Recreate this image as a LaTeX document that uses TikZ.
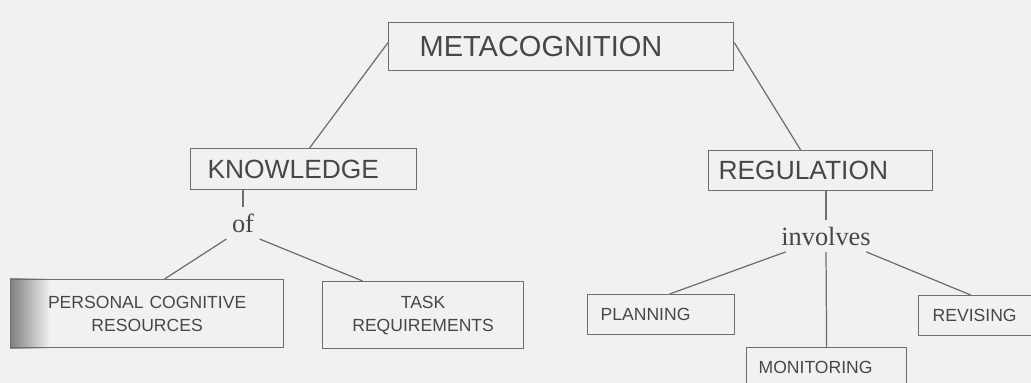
\documentclass[tikz,border=0pt]{standalone}
\usepackage{fontspec}
\setmainfont{Liberation Serif}
\newfontfamily\boxfont{Liberation Sans}
\usetikzlibrary{positioning,backgrounds}
\definecolor{paper}{HTML}{F1F1EF}
\definecolor{ink}{HTML}{474747}
\definecolor{rule}{HTML}{6E6E6E}

\begin{document}
\begin{tikzpicture}[line width=0.7pt]
  \tikzstyle{box} = [rectangle, draw=rule, text=ink, anchor=north west, align=left, minimum height=0.8cm]
  \tikzstyle{bigbox} = [box, font=\boxfont\fontsize{16.5}{19}\selectfont]
  \tikzstyle{midbox} = [box, font=\boxfont\fontsize{15}{18}\selectfont]
  \tikzstyle{smallbox} = [box, font=\boxfont\fontsize{10}{13}\selectfont]
  \tikzstyle{word} = [text=ink, inner xsep=0.1cm, inner ysep=0.12cm, font=\fontsize{15}{18}\selectfont]
  \tikzstyle{link} = [draw=rule]

  \useasboundingbox (0,0) rectangle (20.62,-7.66);
  \clip (0,0) rectangle (20.62,-7.66);

  % top of the tree
  \node[bigbox, inner xsep=0.62cm, text width=5.66cm, minimum height=0.96cm] (meta) at (7.76,-0.44) {METACOGNITION};

  % the two branches
  \node[midbox, inner xsep=0.34cm, text width=3.84cm, minimum height=0.82cm] (know) at (3.80,-2.96) {KNOWLEDGE};
  \node[midbox, inner xsep=0.20cm, text width=4.08cm] (reg) at (14.16,-3.00) {REGULATION};

  \node[word] (of) at (4.86,-4.46) {of};
  \node[word] (inv) at (16.52,-4.72) {involves};

  % knowledge side
  \node[smallbox, align=center, inner xsep=0.2cm, text width=5.06cm, minimum height=1.36cm] (pcr) at (0.20,-5.58) {PERSONAL COGNITIVE\\RESOURCES};
  \node[smallbox, align=center, inner xsep=0.2cm, text width=3.62cm, minimum height=1.34cm] (task) at (6.44,-5.62) {TASK\\REQUIREMENTS};

  % regulation side
  \node[smallbox, inner xsep=0.26cm, text width=2.42cm] (plan) at (11.74,-5.88) {PLANNING};
  \node[smallbox, inner xsep=0.24cm, text width=2.72cm] (mon) at (14.92,-6.94) {MONITORING};
  \node[smallbox, inner xsep=0.28cm, text width=2.04cm] (rev) at (18.36,-5.90) {REVISING};

  \path[link] ([yshift=0.08cm]meta.west) -- ([xshift=0.12cm]know.north);
  \path[link] ([yshift=0.08cm]meta.east) -- ([xshift=-0.4cm]reg.north);
  \path[link] (know.south -| of.north) -- (of.north);
  \path[link] (of.south west) -- ([xshift=0.35cm]pcr.north);
  \path[link] (of.south east) -- ([xshift=-1.21cm]task.north);
  \path[link] (reg.south -| inv.north) -- (inv.north);
  \path[link] (inv.south) -- (mon.north);
  \path[link] ([xshift=0.2cm]inv.south west) -- ([xshift=0.17cm]plan.north);
  \path[link] ([xshift=-0.2cm]inv.south east) -- ([xshift=-0.26cm]rev.north);

  \begin{scope}[on background layer]
    \fill[paper] (0,0) rectangle (20.62,-7.66);
    % dark edge along the left of the first box
    \shade[left color=black!50, right color=paper] (pcr.north west) rectangle ([xshift=0.8cm]pcr.south west);
  \end{scope}
\end{tikzpicture}
\end{document}
